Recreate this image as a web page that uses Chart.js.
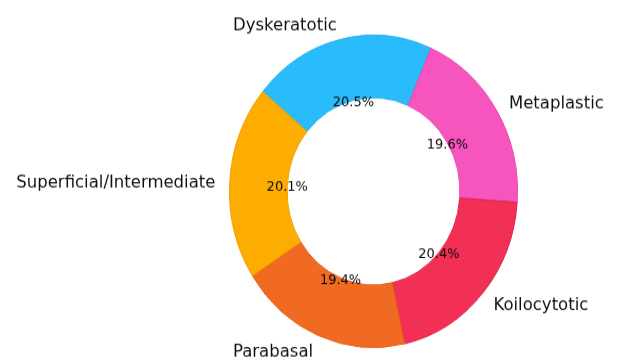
<!DOCTYPE html>
<html>
<head>
<meta charset="utf-8">
<script src="https://cdn.jsdelivr.net/npm/chart.js@4/dist/chart.umd.min.js"></script>
<style>
  html, body { margin: 0; padding: 0; background: #ffffff; }
  #wrap { width: 617px; height: 361px; overflow: hidden; }
</style>
</head>
<body>
<div id="wrap">
  <!-- drawn at 617x333 and shown at 617x361, so the ring is a slightly tall ellipse -->
  <canvas id="c" width="617" height="333" style="display:block;width:617px;height:361px;"></canvas>
</div>
<script>
// Cell classes, listed clockwise from the top-left of the ring
const categories = ['Dyskeratotic', 'Metaplastic', 'Koilocytotic', 'Parabasal', 'Superficial/Intermediate'];
// Share of each class, in percent
const shares = [20.5, 19.6, 20.4, 19.4, 20.1];
const sliceColors = ['#29BBFA', '#F655BE', '#F23055', '#F16A22', '#FDAD00'];
const sliceEdges = ['#22AEEA', '#E84AB1', '#DE2249', '#E25E18', '#EEA000'];

const FONT = '"DejaVu Sans", "Liberation Sans", sans-serif';

// Names outside the ring, percentages on the inner edge.
// Text is centred on its full box (descender included), hence the small downward nudge.
const sliceText = {
  id: 'sliceText',
  afterDatasetsDraw(chart) {
    const ctx = chart.ctx;
    const meta = chart.getDatasetMeta(0);
    const values = chart.data.datasets[0].data;
    meta.data.forEach((arc, i) => {
      const p = arc.getProps(['x', 'y', 'startAngle', 'endAngle', 'outerRadius'], true);
      const mid = (p.startAngle + p.endAngle) / 2;
      const cx = Math.cos(mid), cy = Math.sin(mid);

      // category name
      const lr = p.outerRadius * 1.1;
      ctx.save();
      ctx.font = '16.5px ' + FONT;
      ctx.fillStyle = '#111111';
      ctx.textBaseline = 'middle';
      ctx.textAlign = cx < 0 ? 'right' : 'left';
      ctx.fillText(chart.data.labels[i], p.x + lr * cx, p.y + lr * cy + 1.8);
      ctx.restore();

      // percentage
      const pr = p.outerRadius * 0.6;
      ctx.save();
      ctx.font = '13px ' + FONT;
      ctx.fillStyle = '#0a0a0a';
      ctx.textBaseline = 'middle';
      ctx.textAlign = 'center';
      ctx.fillText(values[i].toFixed(1) + '%', p.x + pr * cx, p.y + pr * cy + 1.8);
      ctx.restore();
    });
  }
};

new Chart(document.getElementById('c'), {
  type: 'doughnut',
  data: {
    labels: categories,
    datasets: [{
      data: shares,
      backgroundColor: sliceColors,
      borderColor: sliceEdges,
      borderWidth: 1,
      hoverOffset: 0
    }]
  },
  options: {
    responsive: false,
    devicePixelRatio: 1,
    animation: false,
    rotation: -50.3,
    cutout: '60%',
    layout: { padding: { left: 229, right: 99, top: 32, bottom: 12 } },
    plugins: {
      legend: { display: false },
      tooltip: { enabled: false }
    }
  },
  plugins: [sliceText]
});
</script>
</body>
</html>
